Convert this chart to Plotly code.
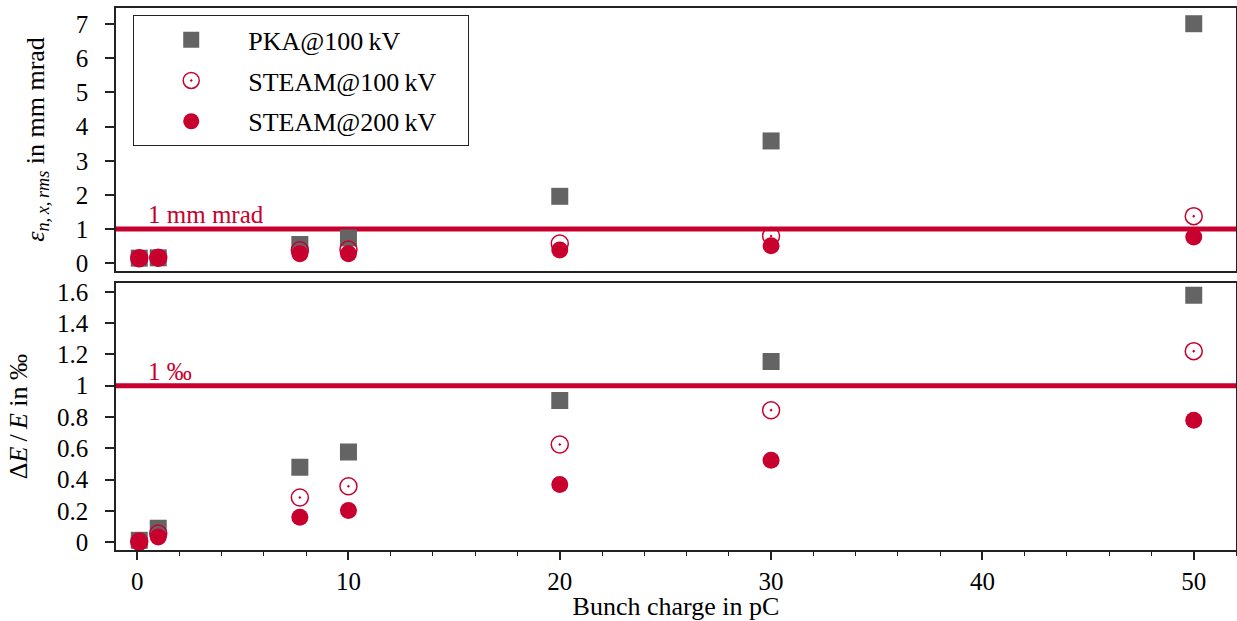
import plotly.graph_objects as go
from plotly.subplots import make_subplots

# Data
charge = [0.1, 1.0, 7.7, 10.0, 20.0, 30.0, 50.0]

emit_pka100 = [0.15, 0.16, 0.55, 0.74, 1.96, 3.58, 7.01]
emit_steam100 = [0.15, 0.16, 0.38, 0.40, 0.58, 0.80, 1.38]
emit_steam200 = [0.15, 0.15, 0.28, 0.28, 0.39, 0.51, 0.77]

esp_pka100 = [0.013, 0.09, 0.48, 0.577, 0.905, 1.155, 1.578]
esp_steam100 = [0.005, 0.056, 0.286, 0.358, 0.625, 0.844, 1.221]
esp_steam200 = [0.0, 0.034, 0.16, 0.203, 0.37, 0.524, 0.78]

limit_emit = 1.0
limit_esp = 1.0

names = ["PKA@100\u2009kV", "STEAM@100\u2009kV", "STEAM@200\u2009kV"]

RED = "#C8002E"
GREY = "#646464"
FONT = "'Liberation Serif', 'Times New Roman', Times, serif"
FS_TICK = 25
FS_TITLE = 26
FS_LEG = 26

fig = make_subplots(rows=2, cols=1, shared_xaxes=False)

styles = [
    dict(symbol="square", color=GREY, size=17, line=dict(width=0)),
    dict(symbol="circle-open-dot", color=RED, size=17, line=dict(width=1.5, color=RED)),
    dict(symbol="circle", color=RED, size=17, line=dict(width=0)),
]

top = [emit_pka100, emit_steam100, emit_steam200]
bot = [esp_pka100, esp_steam100, esp_steam200]

for i in range(3):
    fig.add_trace(go.Scatter(x=charge, y=top[i], mode="markers", marker=styles[i],
                             name=names[i] + "\u2003", legendgroup=str(i), showlegend=True),
                  row=1, col=1)
for i in range(3):
    fig.add_trace(go.Scatter(x=charge, y=bot[i], mode="markers", marker=styles[i],
                             name=names[i], legendgroup=str(i), showlegend=False), row=2, col=1)

# reference lines
fig.add_shape(type="line", xref="x domain", yref="y", x0=0, x1=1, y0=limit_emit, y1=limit_emit,
              line=dict(color=RED, width=5), layer="below")
fig.add_shape(type="line", xref="x2 domain", yref="y2", x0=0, x1=1, y0=limit_esp, y1=limit_esp,
              line=dict(color=RED, width=5), layer="below")

fig.add_annotation(x=0.4, y=limit_emit, xref="x", yref="y", text="1 mm mrad", showarrow=False,
                   xanchor="left", yanchor="bottom", yshift=-1, font=dict(family=FONT, size=FS_TICK, color=RED))
fig.add_annotation(x=0.4, y=limit_esp, xref="x2", yref="y2", text="1 \u2030", showarrow=False,
                   xanchor="left", yanchor="bottom", yshift=-1, font=dict(family=FONT, size=FS_TICK, color=RED))

axis_common = dict(showgrid=False, zeroline=False, showline=True, linecolor="#222", linewidth=1.5,
                   mirror=True, automargin=False, tickfont=dict(family=FONT, size=FS_TICK, color="black"))

fig.update_xaxes(**axis_common, range=[-1, 52], row=1, col=1, showticklabels=False, ticks="",
                 domain=[0, 1])
fig.update_xaxes(**axis_common, range=[-1, 52], row=2, col=1, ticks="outside", ticklen=8,
                 tickwidth=1.5, tickcolor="#222", tickvals=[0, 10, 20, 30, 40, 50],
                 minor=dict(dtick=2, ticks="outside", ticklen=4, tickwidth=1.2, tickcolor="#222"),
                 title=dict(text="Bunch charge in pC", font=dict(family=FONT, size=FS_TITLE, color="black"),
                            standoff=2),
                 domain=[0, 1])

fig.update_yaxes(**axis_common, range=[-0.225, 7.47], row=1, col=1, ticks="outside", ticklen=9,
                 tickwidth=1.5, tickcolor="#222", tickvals=[0, 1, 2, 3, 4, 5, 6, 7],
                 ticklabelstandoff=12,
                 title=dict(text="<i>\u03b5</i><sub><i>n,\u2009x,\u2009rms</i></sub> in mm mrad",
                            font=dict(family=FONT, size=FS_TITLE, color="black"), standoff=24),
                 domain=[0.5148, 1])
fig.update_yaxes(**axis_common, range=[-0.049, 1.654], row=2, col=1, ticks="outside", ticklen=9,
                 tickwidth=1.5, tickcolor="#222",
                 tickvals=[0, 0.2, 0.4, 0.6, 0.8, 1.0, 1.2, 1.4, 1.6],
                 ticktext=["0", "0.2", "0.4", "0.6", "0.8", "1", "1.2", "1.4", "1.6"],
                 ticklabelstandoff=12,
                 title=dict(text="\u0394<i>E</i>\u2009/\u2009<i>E</i> in \u2030",
                            font=dict(family=FONT, size=FS_TITLE, color="black"), standoff=22),
                 domain=[0, 0.492])

fig.update_layout(
    width=1237, height=621,
    margin=dict(l=116, r=1, t=8, b=71),
    plot_bgcolor="white", paper_bgcolor="white",
    font=dict(family=FONT, size=FS_TICK, color="black"),
    showlegend=True,
    legend=dict(x=0.0152, y=0.987, xanchor="left", yanchor="top",
                bordercolor="#222", borderwidth=1.2, bgcolor="white",
                font=dict(family=FONT, size=FS_LEG, color="black"),
                tracegroupgap=4, itemwidth=104),
)

fig.write_html("out.html", post_script="document.body.style.margin='0';",
               config={"displayModeBar": False})
